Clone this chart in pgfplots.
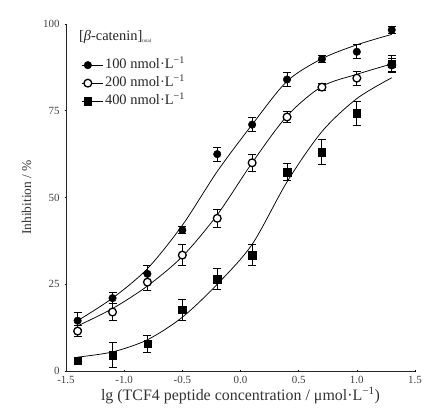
\documentclass[border=0pt]{standalone}
\usepackage{pgfplots}
\pgfplotsset{compat=1.18}
\usepackage{pgfplotstable}
\usepackage{fontspec}
\setmainfont{Liberation Serif}

\pgfplotstableread{
x y e
-1.4 14.5 2.5
-1.1 21.0 1.5
-0.8 28.0 2.5
-0.5 40.6 1.0
-0.2 62.5 2.0
0.1 71.0 2.0
0.4 84.0 2.0
0.7 89.9 1.0
1.0 92.0 2.0
1.3 98.3 1.0
}\sA
\pgfplotstableread{
x y e
-1.4 11.5 1.5
-1.1 17.0 2.5
-0.8 25.6 2.5
-0.5 33.4 3.0
-0.2 44.0 2.5
0.1 60.0 2.5
0.4 73.2 1.5
0.7 81.8 1.0
1.0 84.4 2.0
1.3 88.2 2.0
}\sB
\pgfplotstableread{
x y e
-1.4 2.9 1.0
-1.1 4.6 3.5
-0.8 7.8 2.5
-0.5 17.6 3.0
-0.2 26.5 3.0
0.1 33.4 3.0
0.4 57.3 2.5
0.7 63.1 3.5
1.0 74.3 3.5
1.3 88.5 2.5
}\sC
\pgfplotstableread{
x y
-1.4 14.5
-1.1 21.0
-0.8 29.5
-0.5 42.0
-0.2 57.5
0.1 71.0
0.4 83.5
0.7 90.0
1.0 94.0
1.3 97.0
}\fA
\pgfplotstableread{
x y
-1.4 13.0
-1.1 18.0
-0.8 24.5
-0.5 33.0
-0.2 45.0
0.1 60.0
0.4 73.5
0.7 82.0
1.0 85.5
1.3 88.5
}\fB
\pgfplotstableread{
x y
-1.4 4.0
-1.1 5.5
-0.8 9.0
-0.5 15.5
-0.2 25.0
0.1 36.5
0.4 54.5
0.7 69.0
1.0 78.5
1.3 84.5
}\fC

\begin{document}
\begin{tikzpicture}
\begin{axis}[
  scale only axis,
  width=349bp, height=347bp,
  xmin=-1.5, xmax=1.5, ymin=0, ymax=100,
  axis lines=left,
  axis line style={-, line width=0.9pt, black!85},
  xtick={-1.5,-1,-0.5,0,0.5,1,1.5},
  xticklabels={-1.5,-1.0,-0.5,0.0,0.5,1.0,1.5},
  ytick={0,25,50,75,100},
  /pgf/number format/assume math mode=true,
  tick style={black, line width=0.6pt},
  major tick length=3pt,
  tick label style={font=\fontsize{11}{12}\selectfont, text=black!75},
  x tick label style={yshift=-0.5pt},
  y tick label style={xshift=-1.5pt},
  xlabel={lg (TCF4 peptide concentration / μmol·L\textsuperscript{−1})},
  ylabel={Inhibition / \%},
  xlabel style={font=\fontsize{16}{18}\selectfont, text=black!80, yshift=4pt},
  ylabel style={font=\fontsize{13.5}{15}\selectfont, text=black!80, yshift=5pt},
  legend style={draw=none, fill=none, at={(rel axis cs:0.035,0.99)}, anchor=north west,
    font=\fontsize{14.5}{15}\selectfont, row sep=3bp, text=black!85,
    nodes={inner ysep=1bp, text height=10bp, text depth=3bp}},
  legend cell align=left,
  legend image code/.code={\path (0bp,0bp) -- (21bp,0bp); \draw[black, line width=0.9pt] (0bp,0bp) -- (12bp,0bp); \path[#1] plot coordinates {(6bp,0bp)};},
  error bars/error bar style={line width=0.9pt, black},
  error bars/error mark options={rotate=90, mark size=4pt, line width=0.9pt},
]
\addlegendimage{empty legend}
\addlegendentry[text depth=13bp]{\hspace{-26bp}[\textit{β}-catenin]\textsubscript{\fontsize{5}{5}\selectfont total}}

\addplot[black, line width=0.75pt, smooth, forget plot] table[x=x,y=y] {\fA};
\addplot[black, line width=0.75pt, smooth, forget plot] table[x=x,y=y] {\fB};
\addplot[black, line width=0.75pt, smooth, forget plot] table[x=x,y=y] {\fC};

\addplot[only marks, mark=*, mark size=3.8pt, mark options={fill=black, draw=black},
  error bars/.cd, y dir=both, y explicit] table[x=x,y=y,y error=e] {\sA};
\addlegendentry{100 nmol·L\textsuperscript{−1}}
\addplot[only marks, mark=*, mark size=3.9pt, mark options={fill=white, draw=black, line width=1.3pt},
  error bars/.cd, y dir=both, y explicit] table[x=x,y=y,y error=e] {\sB};
\addlegendentry{200 nmol·L\textsuperscript{−1}}
\addplot[only marks, mark=square*, mark size=3.7pt, mark options={fill=black, draw=black},
  error bars/.cd, y dir=both, y explicit] table[x=x,y=y,y error=e] {\sC};
\addlegendentry{400 nmol·L\textsuperscript{−1}}
\end{axis}
\pgfresetboundingbox
\path[use as bounding box] (current axis.south west) ++(-66bp,-49bp) rectangle ([shift={(11bp,24bp)}]current axis.north east);
\end{tikzpicture}
\end{document}
